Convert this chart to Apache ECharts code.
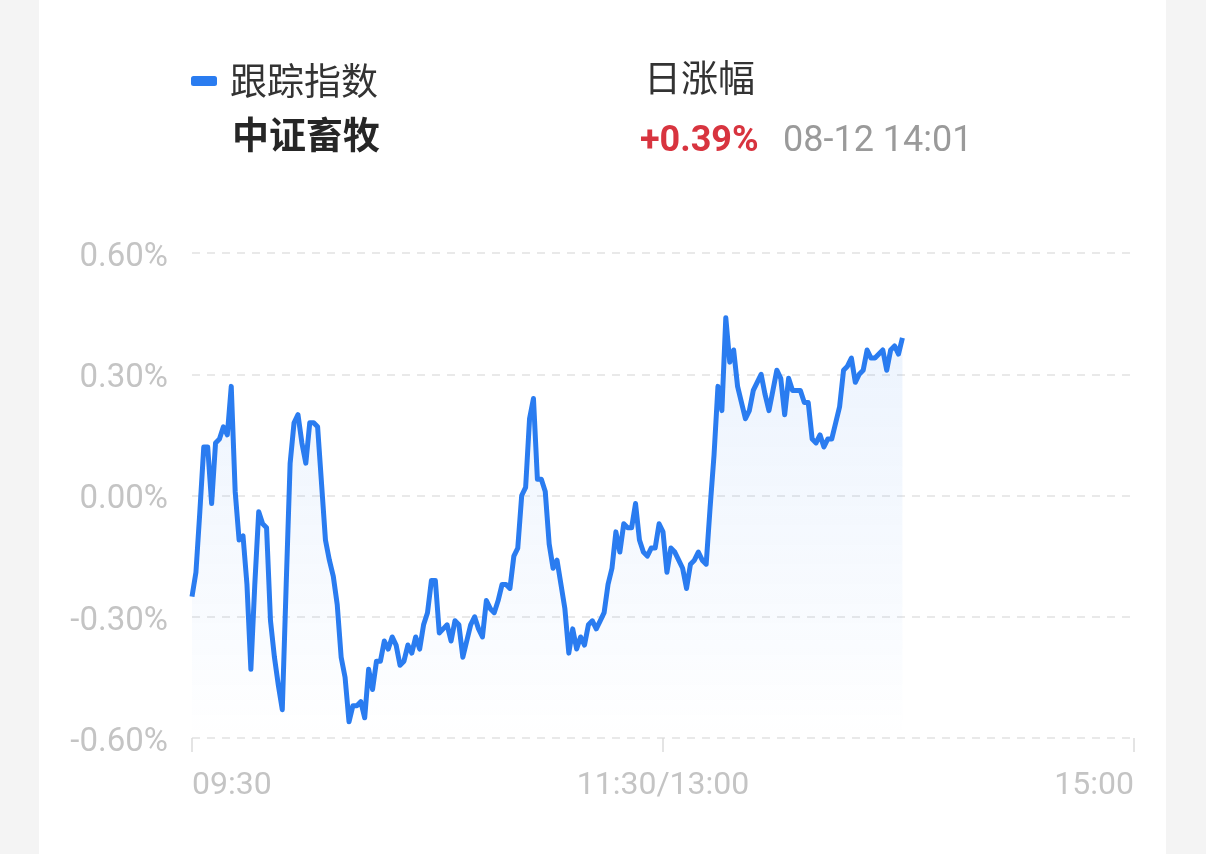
<!DOCTYPE html>
<html>
<head>
<meta charset="utf-8">
<script src="https://cdn.jsdelivr.net/npm/echarts@6/dist/echarts.min.js"></script>
<style>
  html, body { margin: 0; padding: 0; background: #f4f4f4; }
  #card { position: absolute; left: 39px; top: 0; width: 1127px; height: 854px; background: #fff; }
  #chart { position: absolute; left: 0; top: 0; width: 1206px; height: 854px; }
</style>
</head>
<body>
<div id="card"></div>
<div id="chart"></div>
<script>
// intraday change, one point per trading minute from 09:30 (11:30 and 13:00 share one slot)
var seriesName = '跟踪指数';
var indexName = '中证畜牧';
var lastChange = '+0.39%';
var lastTime = '08-12 14:01';

var changePct = [
    -0.25, -0.19, -0.04, 0.12, 0.12, -0.02, 0.13, 0.14, 0.17, 0.15,
    0.27, 0.01, -0.11, -0.10, -0.22, -0.43, -0.22, -0.04, -0.07, -0.08,
    -0.31, -0.40, -0.47, -0.53, -0.22, 0.08, 0.18, 0.20, 0.13, 0.08,
    0.18, 0.18, 0.17, 0.03, -0.11, -0.16, -0.20, -0.27, -0.40, -0.45,
    -0.56, -0.52, -0.52, -0.51, -0.55, -0.43, -0.48, -0.41, -0.41, -0.36,
    -0.38, -0.35, -0.37, -0.42, -0.41, -0.37, -0.39, -0.35, -0.38, -0.32,
    -0.29, -0.21, -0.21, -0.34, -0.33, -0.32, -0.36, -0.31, -0.32, -0.40,
    -0.36, -0.32, -0.30, -0.33, -0.35, -0.26, -0.28, -0.29, -0.26, -0.22,
    -0.22, -0.23, -0.15, -0.13, 0.00, 0.02, 0.19, 0.24, 0.04, 0.04,
    0.01, -0.12, -0.18, -0.16, -0.22, -0.28, -0.39, -0.33, -0.38, -0.35,
    -0.37, -0.32, -0.31, -0.33, -0.31, -0.29, -0.22, -0.18, -0.09, -0.14,
    -0.07, -0.08, -0.08, -0.02, -0.11, -0.14, -0.15, -0.13, -0.13, -0.07,
    -0.09, -0.19, -0.13, -0.14, -0.16, -0.18, -0.23, -0.17, -0.16, -0.14,
    -0.16, -0.17, -0.03, 0.10, 0.27, 0.21, 0.44, 0.33, 0.36, 0.27,
    0.23, 0.19, 0.21, 0.26, 0.28, 0.30, 0.25, 0.21, 0.26, 0.31,
    0.29, 0.20, 0.29, 0.26, 0.26, 0.26, 0.23, 0.23, 0.14, 0.13,
    0.15, 0.12, 0.14, 0.14, 0.18, 0.22, 0.31, 0.32, 0.34, 0.28,
    0.30, 0.31, 0.36, 0.34, 0.34, 0.35, 0.36, 0.31, 0.36, 0.37,
    0.35, 0.39
];

var xTickMinutes = [0, 120, 240];
var xTickLabels = ['09:30', '11:30/13:00', '15:00'];

var lineColor = '#2a7cf0';
var numFont = 'Roboto, "Noto Sans", sans-serif';
var cjkFont = '"Noto Sans CJK SC", "Noto Sans", sans-serif';

var chart = echarts.init(document.getElementById('chart'));

var points = changePct.map(function (v, i) { return [i, v]; });

var option = {
    animation: false,
    grid: { left: 192, right: 72, top: 253, bottom: 116 },
    legend: {
        data: [seriesName],
        left: 186,
        top: 55,
        icon: 'roundRect',
        itemWidth: 26,
        itemHeight: 10,
        textStyle: {
            fontSize: 37,
            lineHeight: 42,
            color: '#333',
            fontFamily: cjkFont,
            padding: [0, 0, 0, 8]
        }
    },
    graphic: [
        {
            type: 'text', left: 232, top: 116,
            style: { text: indexName, font: 'bold 37px ' + cjkFont, fill: '#262626' }
        },
        {
            type: 'text', left: 644, top: 59,
            style: { text: '日涨幅', font: '37px ' + cjkFont, fill: '#333' }
        },
        {
            type: 'text', left: 640, top: 124,
            style: { text: lastChange, font: 'bold 36px ' + numFont, fill: '#d8343f' }
        },
        {
            type: 'text', left: 783, top: 124,
            style: { text: lastTime, font: '36px ' + numFont, fill: '#9a9a9a' }
        }
    ],
    xAxis: {
        type: 'value',
        min: 0,
        max: 240,
        interval: 120,
        axisLine: { show: false, onZero: false },
        axisTick: { show: true, length: 14, lineStyle: { color: '#dcdcdc', width: 1.5 } },
        splitLine: { show: false },
        axisLabel: {
            margin: 32,
            fontSize: 32,
            color: '#c4c4c4',
            fontFamily: numFont,
            alignMinLabel: 'left',
            alignMaxLabel: 'right',
            formatter: function (v) {
                var k = xTickMinutes.indexOf(v);
                return k >= 0 ? xTickLabels[k] : '';
            }
        }
    },
    yAxis: {
        type: 'value',
        min: -0.6,
        max: 0.6,
        interval: 0.3,
        axisLine: { show: false },
        axisTick: { show: false },
        splitLine: { lineStyle: { color: '#e2e2e2', type: [8, 7], width: 1.5 } },
        axisLabel: {
            margin: 24,
            fontSize: 33,
            color: '#c4c4c4',
            fontFamily: numFont,
            verticalAlign: 'top',
            padding: [-12, 0, 0, 0],
            formatter: function (v) { return v.toFixed(2) + '%'; }
        }
    },
    series: [{
        name: seriesName,
        type: 'line',
        data: points,
        showSymbol: false,
        color: lineColor,
        lineStyle: { color: lineColor, width: 5, join: 'round' },
        areaStyle: {
            origin: 'start',
            color: new echarts.graphic.LinearGradient(0, 0, 0, 1, [
                { offset: 0, color: 'rgba(42,124,240,0.13)' },
                { offset: 0.75, color: 'rgba(42,124,240,0.04)' },
                { offset: 1, color: 'rgba(42,124,240,0)' }
            ])
        }
    }]
};

chart.setOption(option);
</script>
</body>
</html>
